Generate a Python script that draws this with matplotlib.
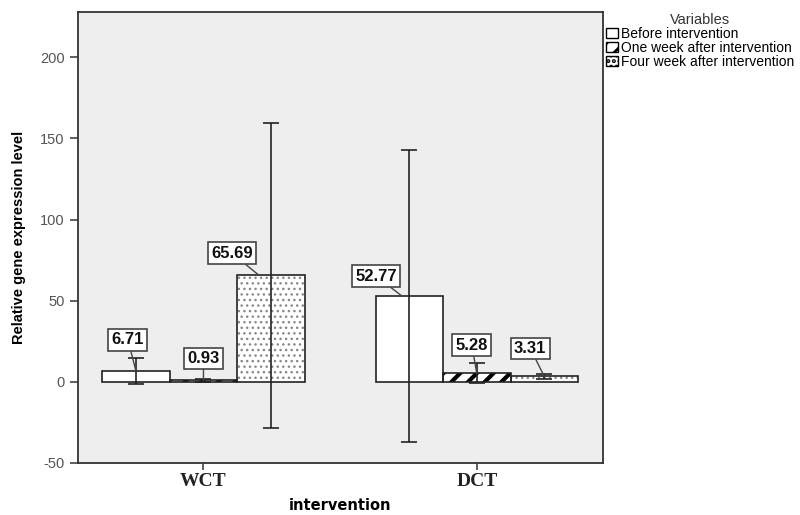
import matplotlib
matplotlib.use("Agg")
from matplotlib import pyplot as plt
from matplotlib.patches import Patch
import numpy as np

groups = ["WCT", "DCT"]
series = ["Before intervention", "One week after intervention", "Four week after intervention"]
means = {
    "Before intervention": [6.71, 52.77],
    "One week after intervention": [0.93, 5.28],
    "Four week after intervention": [65.69, 3.31],
}
errors = {
    "Before intervention": [8.0, 90.0],
    "One week after intervention": [1.0, 6.3],
    "Four week after intervention": [94.0, 1.6],
}

plt.rcParams["font.family"] = ["Liberation Sans", "DejaVu Sans"]
plt.rcParams["axes.unicode_minus"] = False

fig = plt.figure(figsize=(8, 5.15), dpi=100)
ax = fig.add_axes([0.0975, 0.101, 0.656, 0.876])
ax.set_facecolor("#eeeeee")

x = np.arange(len(groups))
w = 0.247
offsets = [-w, 0, w]
hatches = [None, "//", "..."]
hatch_lw = [1.0, 3.0, 1.0]
hatch_col = ["black", "black", "#888888"]

# label box offsets (pixels) and where the leader line touches the bar
label_off = {
    "Before intervention": [(-8, 31), (-26, 20)],
    "One week after intervention": [(0, 22), (-5, 28)],
    "Four week after intervention": [(-27, 22), (-14, 28)],
}
point_dx = {
    "Before intervention": [0.0, -0.026],
    "One week after intervention": [0.0, 0.0],
    "Four week after intervention": [-0.044, 0.0],
}

for i, s in enumerate(series):
    xs = x + offsets[i]
    with plt.rc_context({"hatch.linewidth": hatch_lw[i], "hatch.color": hatch_col[i]}):
        ax.bar(xs, means[s], width=w, color="white", edgecolor=hatch_col[i] if hatches[i] else "black",
               hatch=hatches[i], linewidth=0, zorder=2)
    ax.bar(xs, means[s], width=w, fill=False, edgecolor="#222222", linewidth=1.2, zorder=3)
    ax.errorbar(xs, means[s], yerr=errors[s], fmt="none", ecolor="#222222",
                elinewidth=1.2, capsize=6, capthick=1.2, zorder=4)
    for j in range(len(groups)):
        ax.annotate(f"{means[s][j]:.2f}", xy=(xs[j] + point_dx[s][j], means[s][j]),
                    xytext=label_off[s][j], textcoords="offset pixels",
                    ha="center", va="center", fontsize=12, fontweight="bold", color="#111111",
                    bbox=dict(boxstyle="square,pad=0.2", fc="white", ec="#444444", lw=1.2),
                    arrowprops=dict(arrowstyle="-", color="#444444", lw=1.0, shrinkA=0, shrinkB=0),
                    zorder=5)

ax.set_xlim(-0.459, 1.461)
ax.set_ylim(-50, 228)
ax.set_yticks([-50, 0, 50, 100, 150, 200])
ax.set_xticks(x)
ax.set_xticklabels(groups, family="Liberation Serif", fontweight="bold", fontsize=14, color="#222222")
ax.tick_params(axis="y", labelsize=10.5, labelcolor="#555555", color="#444444", length=6, width=1.2)
ax.tick_params(axis="x", color="#444444", length=5, width=1.2, pad=2)
for sp in ax.spines.values():
    sp.set_color("#333333")
    sp.set_linewidth(1.3)

ax.set_ylabel("Relative gene expression level", fontsize=10.5, fontweight="bold", labelpad=10)
ax.set_xlabel("intervention", family="DejaVu Sans", fontsize=10.5, fontweight="bold", labelpad=6)

handles = []
for i, s in enumerate(series):
    handles.append(Patch(facecolor="white", edgecolor="black", hatch=hatches[i], label=s))
with plt.rc_context({"hatch.linewidth": 2.0}):
    leg = fig.legend(handles=handles, loc="upper left", bbox_to_anchor=(0.757, 0.975),
                     frameon=False, fontsize=10, title="Variables", title_fontsize=10.5,
                     handlelength=0.9, handleheight=0.8, handletextpad=0.2,
                     labelspacing=0.0, borderpad=0, borderaxespad=0)
leg.get_title().set_color("#333333")

fig.savefig("out.png", dpi=100, facecolor="white")
